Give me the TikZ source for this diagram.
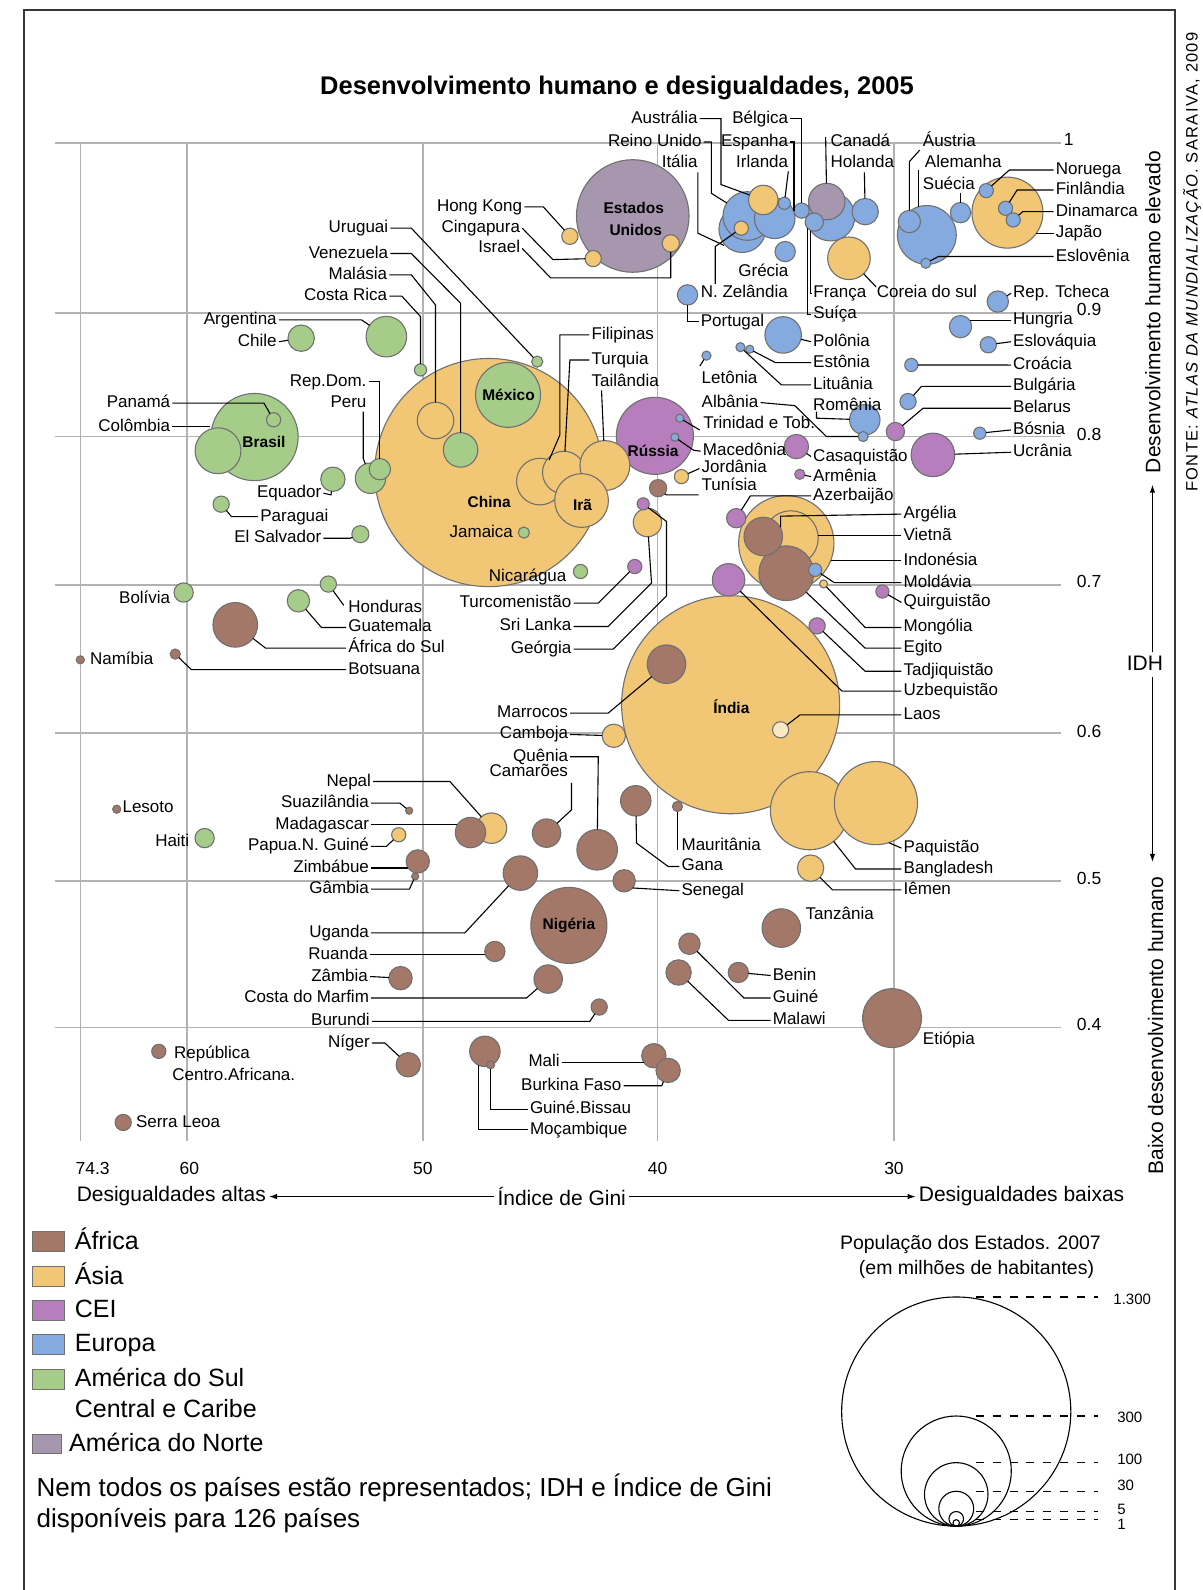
\documentclass[tikz,border=0pt]{standalone}
\usepackage{fontspec}
\setmainfont{Liberation Sans}
\usetikzlibrary{arrows.meta}
\definecolor{africa}{RGB}{163,120,105}
\definecolor{asia}{RGB}{241,199,118}
\definecolor{cei}{RGB}{182,126,188}
\definecolor{europa}{RGB}{132,170,223}
\definecolor{amsul}{RGB}{166,204,138}
\definecolor{amnorte}{RGB}{166,150,174}
\definecolor{laosc}{RGB}{250,232,195}
\definecolor{bordc}{RGB}{112,112,112}
\definecolor{gridc}{RGB}{178,178,178}
\definecolor{framec}{RGB}{55,55,55}
\newcommand\lblf{\fontsize{17}{19}\selectfont}
\newcommand\inlf{\fontsize{15.5}{17}\selectfont\bfseries}
\newcommand\spcd{\addfontfeature{LetterSpace=8}}
\newcommand\CBub[5]{\node[bubble,fill=#2,minimum size={2.0287pt*#5}] (#1) at (#3,#4) {};}
\newcommand\LabW[4]{\node[lbl,anchor=west] (#1) at (#2,#3) {#4};}
\newcommand\LabE[4]{\node[lbl,anchor=east] (#1) at (#2,#3) {#4};}
\begin{document}
\begin{tikzpicture}[x=1.01433pt,y=-1.01433pt,
  bubble/.style={circle,draw=bordc,line width=1.1pt,inner sep=0pt,outer sep=0pt},
  lead/.style={draw=black,line width=1.1pt},
  lbl/.style={font=\lblf,inner sep=2pt,text height=12pt,text depth=3pt},
  inl/.style={font=\inlf,inner sep=0pt},
  gridl/.style={draw=gridc,line width=1.6pt},
  axt/.style={font=\fontsize{21}{23}\selectfont,inner sep=3pt},
  num/.style={font=\fontsize{17.5}{19}\selectfont,inner sep=0pt},
  arr/.style={draw=black,line width=1.1pt,-{Latex[length=8pt,width=5.5pt]}},
  legsq/.style={draw=bordc,line width=1pt,minimum width=32.5pt,minimum height=20pt,inner sep=0pt},
  legt/.style={font=\fontsize{25}{28}\selectfont,anchor=west,inner sep=0pt,text height=18pt,text depth=5pt},
  notet/.style={font=\fontsize{26}{29}\selectfont,anchor=west,inner sep=0pt,text height=18pt,text depth=5pt},
  popn/.style={font=\fontsize{15}{17}\selectfont,anchor=west,inner sep=0pt}]
\useasboundingbox (0,0) rectangle (1186,1568);
\fill[white] (0,0) rectangle (1186,1568);
% frame
\draw[framec,line width=1.9pt] (23.4,1568) -- (23.4,9.9) -- (1158.5,9.9) -- (1158.5,1568);
% grid
\foreach \yy in {141.3,308.9,430.5,576.8,723,868.6,1013.2} \draw[gridl] (54.7,\yy) -- (1046.5,\yy);
\foreach \xx in {79.3,184.5,416.9,648.4,881.6} \draw[gridl] (\xx,141.3) -- (\xx,1125.6);
% title
\node[font=\fontsize{25.5}{28}\selectfont\bfseries] (title) at (608.5,87) {Desenvolvimento humano e desigualdades, 2005};
% bubbles
\CBub{china}{asia}{482}{466}{112.5}
\CBub{india}{asia}{720.5}{695}{107.5}
\CBub{usa}{amnorte}{624}{213}{55.5}
\CBub{indonesia}{asia}{775.4}{535.7}{47}
\CBub{brasil}{amsul}{251}{431}{43}
\CBub{bangladesh}{asia}{798.2}{799.5}{38.5}
\CBub{paquistao}{asia}{863.8}{792}{41}
\CBub{russia}{cei}{645.8}{429.8}{38}
\CBub{nigeria}{africa}{561}{912.6}{37.5}
\CBub{japao}{asia}{993.5}{209.7}{35}
\CBub{mexico}{amsul}{501}{389.4}{32}
\CBub{alemanha}{europa}{914}{231.7}{29}
\CBub{etiopia}{africa}{879.7}{1004}{29}
\CBub{vietna}{asia}{779.9}{530.7}{27}
\CBub{egito}{africa}{775.4}{565.3}{27}
\CBub{filipinas}{asia}{532.4}{474.9}{23}
\CBub{turquia}{asia}{556}{466}{21}
\CBub{tailandia}{asia}{596.5}{459.1}{24.6}
\CBub{ira}{asia}{573.5}{493.6}{26.5}
\CBub{franca}{europa}{819}{213.6}{24}
\CBub{italia}{europa}{732}{226}{23}
\CBub{reinounido}{europa}{737}{213}{24}
\CBub{colombia}{amsul}{215}{444.5}{22.6}
\CBub{africadosul}{africa}{232}{616.2}{22}
\CBub{ucrania}{cei}{920}{448.6}{21.5}
\CBub{coreia}{asia}{837.2}{254.7}{21}
\CBub{argentina}{amsul}{381}{332}{20}
\CBub{quenia}{africa}{588.9}{838}{20}
\CBub{espanha}{europa}{764}{215.3}{20}
\CBub{argelia}{africa}{752.7}{529.1}{19}
\CBub{marrocos}{africa}{657.3}{655}{19}
\CBub{tanzania}{africa}{770.5}{915.2}{19}
\CBub{canada}{amnorte}{815.3}{198.8}{18}
\CBub{polonia}{europa}{772.3}{330.3}{18}
\CBub{malasia}{asia}{429.5}{414.7}{18}
\CBub{venezuela}{amsul}{454.2}{443.7}{17}
\CBub{uganda}{africa}{513.2}{861}{17}
\CBub{uzbequistao}{cei}{718.5}{571.8}{16}
\CBub{nepal}{asia}{484.7}{816.7}{15}
\CBub{madagascar}{africa}{464}{821}{15}
\CBub{peru}{amsul}{365.4}{471.6}{15}
\CBub{gana}{africa}{627}{789.7}{15}
\CBub{mocambique}{africa}{478.2}{1036.8}{15}
\CBub{romenia}{europa}{852.8}{414}{15}
\CBub{australia}{asia}{752.7}{197.2}{14.5}
\CBub{camaroes}{africa}{539}{821.6}{14}
\CBub{costamarfim}{africa}{540.6}{965.5}{14}
\CBub{srilanka}{asia}{638.5}{515.3}{14}
\CBub{iemen}{asia}{799.4}{856.1}{13}
\CBub{holanda}{europa}{853.2}{208.7}{13}
\CBub{chile}{amsul}{297}{333.5}{13}
\CBub{malawi}{africa}{669.2}{959}{12.5}
\CBub{equador}{amsul}{328.3}{472.6}{12}
\CBub{casaquistao}{cei}{785.4}{440.4}{12}
\CBub{niger}{africa}{402.6}{1050}{12}
\CBub{mali}{africa}{644.8}{1041.1}{12}
\CBub{burkina}{africa}{658.9}{1055.6}{12}
\CBub{camboja}{asia}{605.3}{725.6}{11.5}
\CBub{zimbabue}{africa}{412}{849.5}{11.5}
\CBub{zambia}{africa}{395}{964.6}{11.5}
\CBub{hungria}{europa}{947.2}{322.1}{11}
\CBub{guatemala}{amsul}{294.3}{592.5}{11}
\CBub{senegal}{africa}{615.5}{868.6}{11}
\CBub{austria}{europa}{896.8}{218.5}{11}
\CBub{repdom}{amsul}{374.6}{462.7}{10.5}
\CBub{guine}{africa}{679.9}{930.7}{10.5}
\CBub{reptcheca}{europa}{984}{297.4}{10.5}
\CBub{benin}{africa}{728.1}{959}{10}
\CBub{ruanda}{africa}{488}{938.3}{10}
\CBub{portugal}{europa}{678}{290.8}{10}
\CBub{grecia}{europa}{774.3}{248.1}{10}
\CBub{suecia}{europa}{947.2}{209.7}{10}
\CBub{bolivia}{amsul}{181.1}{584.3}{9.5}
\CBub{haiti}{amsul}{201.8}{826.5}{9.5}
\CBub{azerbaijao}{cei}{726}{511}{9.5}
\CBub{belarus}{cei}{883}{425.6}{9}
\CBub{suica}{europa}{803}{219}{9}
\CBub{tunisia}{africa}{649}{481.4}{8.5}
\CBub{israel}{asia}{661.5}{240}{8.5}
\CBub{elsalvador}{amsul}{355.4}{526.8}{8.4}
\CBub{honduras}{amsul}{323.8}{576}{8}
\CBub{paraguai}{amsul}{218.1}{497.2}{8}
\CBub{burundi}{africa}{590.9}{993.1}{8}
\CBub{bulgaria}{europa}{895.5}{396}{8}
\CBub{eslovaquia}{europa}{974.6}{340}{8}
\CBub{tadjiquistao}{cei}{805.8}{617.2}{8}
\CBub{hongkong}{asia}{562}{233}{8}
\CBub{cingapura}{asia}{585}{255}{8}
\CBub{laos}{laosc}{769.8}{719.7}{8}
\CBub{serraleoa}{africa}{121.5}{1106.9}{8}
\CBub{belgica}{europa}{790.5}{207.7}{7.5}
\CBub{turcomenistao}{cei}{626}{558.7}{7}
\CBub{jordania}{asia}{672}{470}{7}
\CBub{nzelandia}{asia}{731}{225}{7}
\CBub{panama}{amsul}{269.8}{414}{7}
\CBub{papua}{asia}{393.2}{823.2}{7}
\CBub{noruega}{europa}{972.6}{188}{7}
\CBub{finlandia}{europa}{991.6}{205.4}{7}
\CBub{dinamarca}{europa}{999.2}{216.9}{7}
\CBub{rca}{africa}{156.6}{1036.8}{7}
\CBub{nicaragua}{amsul}{572.5}{563.6}{7}
\CBub{croacia}{europa}{898.7}{359.9}{6.5}
\CBub{moldavia}{europa}{803.9}{562}{6.5}
\CBub{quirguistao}{cei}{870.2}{583.3}{6.5}
\CBub{irlanda}{europa}{773.5}{200.5}{6}
\CBub{costarica}{amsul}{414.7}{364.8}{6}
\CBub{bosnia}{europa}{966.2}{427.2}{6}
\CBub{georgia}{cei}{634.3}{496.9}{6}
\CBub{uruguai}{amsul}{529.8}{356.6}{5.5}
\CBub{jamaica}{amsul}{516.6}{525.2}{5.5}
\CBub{armenia}{cei}{788.7}{467.7}{5}
\CBub{albania}{europa}{851.2}{430.5}{5}
\CBub{botsuana}{africa}{172.8}{645}{5}
\CBub{mauritania}{africa}{668.1}{795.3}{5}
\CBub{eslovenia}{europa}{913}{259.6}{5}
\CBub{letonia}{europa}{696.7}{350.7}{4.5}
\CBub{lituania}{europa}{730.2}{342.4}{4.5}
\CBub{estonia}{europa}{739.4}{344.4}{4}
\CBub{trinidad}{europa}{670.4}{412.4}{4}
\CBub{macedonia}{europa}{665.5}{431.2}{4}
\CBub{namibia}{africa}{79.2}{650.7}{4}
\CBub{lesoto}{africa}{115.1}{798}{4}
\CBub{mongolia}{asia}{812.2}{575.8}{4}
\CBub{guinebissau}{africa}{483.8}{1050}{4}
\CBub{suazilandia}{africa}{403.5}{799.5}{3.5}
\CBub{gambia}{africa}{409.4}{864.3}{3.5}
% labels inside bubbles
\node[inl] (t-usa1) at (625,205) {Estados};
\node[inl] (t-usa2) at (627,227) {Unidos};
\node[inl] (t-mexico) at (501.5,389.4) {México};
\node[inl] (t-brasil) at (260.3,436) {Brasil};
\node[inl] (t-china) at (482.4,494.6) {China};
\node[inl] (t-ira) at (574.5,497.9) {Irã};
\node[inl] (t-russia) at (644,445) {Rússia};
\node[inl] (t-india) at (721.2,696.7) {Índia};
\node[inl] (t-nigeria) at (561,912.6) {Nigéria};
% country labels
\LabE{l-australia}{690}{117}{Austrália}
\LabE{l-belgica}{779.4}{117}{Bélgica}
\LabE{l-reino}{694}{140}{Reino Unido}
\LabE{l-espanha}{779.4}{140}{Espanha}
\LabE{l-italia}{690.2}{161}{Itália}
\LabE{l-irlanda}{779.4}{161}{Irlanda}
\LabW{l-canada}{817}{140}{Canadá}
\LabW{l-holanda}{817}{161}{Holanda}
\LabW{l-austria}{908}{140}{Áustria}
\LabW{l-alemanha}{910}{161}{Alemanha}
\LabW{l-suecia}{908}{182}{Suécia}
\LabW{l-noruega}{1039}{167.6}{Noruega}
\LabW{l-finlandia}{1039}{187.4}{Finlândia}
\LabW{l-dinamarca}{1039}{208.7}{Dinamarca}
\LabW{l-japao}{1039}{230}{Japão}
\LabW{l-eslovenia}{1039}{253}{Eslovênia}
\LabW{l-grecia}{726}{267.8}{Grécia}
\LabW{l-nzel}{689}{289.2}{N. Zelândia}
\LabW{l-portugal}{689}{317.1}{Portugal}
\LabW{l-franca}{800}{289.2}{França}
\LabW{l-suica}{800}{310}{Suíça}
\LabW{l-coreia}{862.6}{289.2}{Coreia do sul}
\LabW{l-tcheca}{997}{289.2}{Rep. Tcheca}
\LabW{l-hungria}{997}{316}{Hungria}
\LabW{l-eslovaquia}{997}{337}{Eslováquia}
\LabW{l-croacia}{997}{360}{Croácia}
\LabW{l-bulgaria}{997}{381}{Bulgária}
\LabW{l-belarus}{997}{402.6}{Belarus}
\LabW{l-bosnia}{997}{424}{Bósnia}
\LabW{l-ucrania}{997}{446}{Ucrânia}
\LabW{l-polonia}{799.8}{337}{Polônia}
\LabW{l-estonia}{799.8}{357.6}{Estônia}
\LabW{l-lituania}{799.8}{379.6}{Lituânia}
\LabW{l-romenia}{799.8}{400.6}{Romênia}
\LabW{l-casaq}{799.8}{450.2}{Casaquistão}
\LabW{l-armenia}{799.8}{470}{Armênia}
\LabW{l-azer}{799.8}{489}{Azerbaijão}
\LabW{l-letonia}{689.8}{374}{Letônia}
\LabW{l-albania}{689.8}{397}{Albânia}
\LabW{l-trinidad}{691.4}{418}{Trinidad e Tob.}
\LabW{l-macedonia}{691}{445}{Macedônia}
\LabW{l-jordania}{689.8}{462}{Jordânia}
\LabW{l-tunisia}{689.8}{479}{Tunísia}
\LabE{l-hk}{517}{204}{Hong Kong}
\LabE{l-cing}{515}{225}{Cingapura}
\LabE{l-israel}{515}{245}{Israel}
\LabE{l-uruguai}{385}{225}{Uruguai}
\LabE{l-venez}{385}{250}{Venezuela}
\LabE{l-malasia}{384}{271}{Malásia}
\LabE{l-costarica}{384}{292}{Costa Rica}
\LabE{l-argentina}{275}{315.5}{Argentina}
\LabE{l-chile}{275}{337}{Chile}
\LabW{l-filipinas}{581.3}{330.3}{Filipinas}
\LabW{l-turquia}{581.3}{355}{Turquia}
\LabW{l-tailandia}{581.3}{376.3}{Tailândia}
\LabE{l-repdom}{363.5}{376.3}{Rep.Dom.}
\LabE{l-peru}{363.5}{397.6}{Peru}
\LabE{l-panama}{170}{397.6}{Panamá}
\LabE{l-colombia}{170}{420.6}{Colômbia}
\LabE{l-equador}{319}{486.4}{Equador}
\LabW{l-paraguai}{254.6}{509.4}{Paraguai}
\LabE{l-elsal}{319}{530.8}{El Salvador}
\LabE{l-jamaica}{508}{525.8}{Jamaica}
\LabE{l-nicaragua}{560.7}{569}{Nicarágua}
\LabE{l-bolivia}{170}{590.6}{Bolívia}
\LabW{l-honduras}{341.4}{600}{Honduras}
\LabW{l-guatemala}{341.4}{618.8}{Guatemala}
\LabW{l-africasul}{341.4}{639.2}{África do Sul}
\LabW{l-botsuana}{341.4}{660.4}{Botsuana}
\LabW{l-namibia}{86.7}{650.7}{Namíbia}
\LabE{l-turcom}{565.6}{594.8}{Turcomenistão}
\LabE{l-srilanka}{565.6}{617.8}{Sri Lanka}
\LabE{l-georgia}{565.6}{640.2}{Geórgia}
\LabE{l-marrocos}{562.3}{703.3}{Marrocos}
\LabE{l-camboja}{562.3}{724.3}{Camboja}
\LabE{l-quenia}{562.3}{746.3}{Quênia}
\LabE{l-camaroes}{562.3}{761.8}{Camarões}
\LabE{l-nepal}{368}{770.7}{Nepal}
\LabE{l-suazi}{366}{792}{Suazilândia}
\LabE{l-madag}{366}{813.4}{Madagascar}
\LabE{l-papua}{366}{834.7}{Papua.N. Guiné}
\LabE{l-zimb}{366}{856}{Zimbábue}
\LabE{l-gambia}{366}{876.8}{Gâmbia}
\LabW{l-lesoto}{118.7}{797}{Lesoto}
\LabE{l-haiti}{188.8}{830}{Haiti}
\LabE{l-uganda}{366}{920}{Uganda}
\LabE{l-ruanda}{365}{941.5}{Ruanda}
\LabE{l-zambia}{365}{963}{Zâmbia}
\LabE{l-cmarfim}{366}{984.2}{Costa do Marfim}
\LabE{l-burundi}{366.8}{1007.3}{Burundi}
\LabE{l-niger}{366.8}{1028.6}{Níger}
\LabW{l-rca1}{169.6}{1039.2}{República}
\LabW{l-rca2}{167.8}{1061}{Centro.Africana.}
\LabW{l-serra}{132}{1107.6}{Serra Leoa}
\LabE{l-mali}{554.1}{1047.7}{Mali}
\LabE{l-burkina}{614.9}{1070.7}{Burkina Faso}
\LabW{l-gbissau}{520.5}{1093.7}{Guiné.Bissau}
\LabW{l-mocamb}{520.5}{1114}{Moçambique}
\LabW{l-mauritania}{670}{833.8}{Mauritânia}
\LabW{l-gana}{670}{854.5}{Gana}
\LabW{l-senegal}{670}{878.4}{Senegal}
\LabW{l-tanzania}{792.4}{902.1}{Tanzânia}
\LabW{l-benin}{760}{962}{Benin}
\LabW{l-guine}{760}{984.2}{Guiné}
\LabW{l-malawi}{760}{1006.3}{Malawi}
\LabW{l-etiopia}{908}{1025.3}{Etiópia}
\LabW{l-paquistao}{889}{836.4}{Paquistão}
\LabW{l-bangla}{889}{857}{Bangladesh}
\LabW{l-iemen}{889}{877.5}{Iêmen}
\LabW{l-laos}{889}{705}{Laos}
\LabW{l-argelia}{889}{507}{Argélia}
\LabW{l-vietna}{889}{528.5}{Vietnã}
\LabW{l-indonesia}{889}{553}{Indonésia}
\LabW{l-moldavia}{889}{574.6}{Moldávia}
\LabW{l-quirg}{889}{594.1}{Quirguistão}
\LabW{l-mongolia}{889}{618.8}{Mongólia}
\LabW{l-egito}{889}{639.2}{Egito}
\LabW{l-tadj}{889}{662}{Tadjiquistão}
\LabW{l-uzbek}{889}{681.6}{Uzbequistão}
% leaders
\draw[lead] (l-australia.east) -- (711,117) -- (711,182) -- (australia);
\draw[lead] (l-belgica.east) -- (790.5,117) -- (belgica);
\draw[lead] (l-reino.east) -- (701.5,140) -- (701.5,190.6) -- (reinounido);
\draw[lead] (l-espanha.east) -- (783,140) -- (783,208);
\draw[lead] (688.2,170) -- (688.2,230) -- (714,242);
\draw[lead] (777.4,169) -- (irlanda);
\draw[lead] (814.2,135) -- (canada);
\draw[lead] (852.4,170) -- (holanda);
\draw[lead] (907,148) -- (896.8,159.4) -- (austria);
\draw[lead] (905.5,168) -- (905.5,204.5);
\draw[lead] (947.2,190) -- (suecia);
\draw[lead] (l-noruega.west) -- (995.4,167.6) -- (noruega);
\draw[lead] (l-finlandia.west) -- (1003,187.4) -- (finlandia);
\draw[lead] (l-dinamarca.west) -- (1008.6,208.7) -- (dinamarca);
\draw[lead] (l-japao.west) -- (1022,230);
\draw[lead] (l-eslovenia.west) -- (925.3,253) -- (eslovenia);
\draw[lead] (705.3,280) -- (705.3,243.2) -- (nzelandia);
\draw[lead] (portugal) -- (678,317.1) -- (l-portugal.west);
\draw[lead] (l-franca.west) -- (799.4,289.2) -- (799.4,228);
\draw[lead] (l-suica.west) -- (796.3,310) -- (796.3,225);
\draw[lead] (coreia) -- (864,283);
\draw[lead] (l-tcheca.west) -- (reptcheca);
\draw[lead] (l-hungria.west) -- (956.5,316);
\draw[lead] (l-eslovaquia.west) -- (eslovaquia);
\draw[lead] (l-croacia.west) -- (croacia);
\draw[lead] (l-bulgaria.west) -- (908.7,381) -- (bulgaria);
\draw[lead] (l-belarus.west) -- (910.3,402.6) -- (belarus);
\draw[lead] (l-bosnia.west) -- (bosnia);
\draw[lead] (l-ucrania.west) -- (ucrania);
\draw[lead] (l-polonia.west) -- (polonia);
\draw[lead] (l-estonia.west) -- (764.7,357.6) -- (estonia);
\draw[lead] (l-lituania.west) -- (770.6,379.6) -- (lituania);
\draw[lead] (805.2,406) -- (805.2,412.4) -- (romenia);
\draw[lead] (l-casaq.west) -- (casaquistao);
\draw[lead] (l-armenia.west) -- (armenia);
\draw[lead] (l-azer.west) -- (740,489) -- (azerbaijao);
\draw[lead] (690.1,361) -- (letonia);
\draw[lead] (l-albania.east) -- (783.8,400) -- (815,430.5) -- (albania);
\draw[lead] (trinidad) -- (690,424);
\draw[lead] (macedonia) -- (684,444) -- (l-macedonia.west);
\draw[lead] (jordania) -- (l-jordania.west);
\draw[lead] (tunisia) -- (657,488) -- (689,488);
\draw[lead] (l-hk.east) -- (535.8,204) -- (hongkong);
\draw[lead] (l-cing.east) -- (545.2,256) -- (cingapura);
\draw[lead] (l-israel.east) -- (543,274) -- (661.5,274) -- (israel);
\draw[lead] (l-uruguai.east) -- (405.6,225) -- (uruguai);
\draw[lead] (l-venez.east) -- (405.6,250) -- (454.2,299) -- (venezuela);
\draw[lead] (l-malasia.east) -- (405.6,271) -- (429.5,300.7) -- (malasia);
\draw[lead] (l-costarica.east) -- (396.2,292) -- (414.7,312.2) -- (costarica);
\draw[lead] (l-argentina.east) -- (356.6,315.5) -- (argentina);
\draw[lead] (l-chile.east) -- (chile);
\draw[lead] (l-filipinas.west) -- (552.1,330.3) -- (552.1,429) -- (filipinas);
\draw[lead] (l-turquia.west) -- (562,355) -- (turquia);
\draw[lead] (593.2,385) -- (tailandia);
\draw[lead] (l-repdom.east) -- (374.6,376.3) -- (repdom);
\draw[lead] (358.2,406) -- (358.2,452) -- (peru);
\draw[lead] (l-panama.east) -- (260.3,397.6) -- (panama);
\draw[lead] (l-colombia.east) -- (207.5,420.6);
\draw[lead] (l-equador.east) -- (326.4,488) -- (equador);
\draw[lead] (paraguai) -- (228.2,509.4) -- (l-paraguai.west);
\draw[lead] (l-elsal.east) -- (345.3,530.8) -- (elsalvador);
\draw[lead] (honduras) -- (339,597);
\draw[lead] (guatemala) -- (317,618.8) -- (l-guatemala.west);
\draw[lead] (africadosul) -- (262,639.2) -- (l-africasul.west);
\draw[lead] (botsuana) -- (188.7,660.4) -- (l-botsuana.west);
\draw[lead] (l-turcom.east) -- (589.9,594.8) -- (turcomenistao);
\draw[lead] (l-srilanka.east) -- (599.8,617.8) -- (642.5,575) -- (srilanka);
\draw[lead] (l-georgia.east) -- (604.7,640.2) -- (657.3,587.6) -- (657.3,514.3) -- (georgia);
\draw[lead] (l-marrocos.east) -- (599.7,703.3) -- (marrocos);
\draw[lead] (l-camboja.east) -- (camboja);
\draw[lead] (l-quenia.east) -- (590,746.3) -- (quenia);
\draw[lead] (563.6,772) -- (563.6,798.6) -- (camaroes);
\draw[lead] (l-nepal.east) -- (443.7,770.7) -- (nepal);
\draw[lead] (l-suazi.east) -- (394.3,792) -- (suazilandia);
\draw[lead] (l-madag.east) -- (451,813.4);
\draw[lead] (l-papua.east) -- (381,834.7) -- (papua);
\draw[lead] (l-zimb.east) -- (402.5,856);
\draw[lead] (l-gambia.east) -- (403.8,876.8) -- (gambia);
\draw[lead] (l-uganda.east) -- (458.4,920) -- (uganda);
\draw[lead] (l-ruanda.east) -- (478.5,941.5);
\draw[lead] (l-zambia.east) -- (zambia);
\draw[lead] (l-cmarfim.east) -- (519.2,984.2) -- (costamarfim);
\draw[lead] (l-burundi.east) -- (581.7,1007.3) -- (burundi);
\draw[lead] (l-niger.east) -- (379.6,1028.6) -- (niger);
\draw[lead] (l-mali.east) -- (634.8,1047.7);
\draw[lead] (l-burkina.east) -- (652.6,1070.7) -- (burkina);
\draw[lead] (guinebissau) -- (483.8,1093.7) -- (l-gbissau.west);
\draw[lead] (471.6,1050.3) -- (471.6,1114) -- (l-mocamb.west);
\draw[lead] (mauritania) -- (668.1,838);
\draw[lead] (gana) -- (627.7,831.4) -- (658.9,854.5) -- (l-gana.west);
\draw[lead] (senegal.-40) -- (l-senegal.west);
\draw[lead] (benin) -- (l-benin.west);
\draw[lead] (guine) -- (733.7,984.2) -- (l-guine.west);
\draw[lead] (malawi) -- (718.5,1006.3) -- (l-malawi.west);
\draw[lead] (paquistao.-72) -- (l-paquistao.west);
\draw[lead] (bangladesh) -- (843.7,857) -- (l-bangla.west);
\draw[lead] (iemen) -- (821,877.5) -- (l-iemen.west);
\draw[lead] (laos) -- (789,705) -- (l-laos.west);
\draw[lead] (l-argelia.west) -- (769.8,509) -- (769.8,520);
\draw[lead] (l-vietna.west) -- (806.5,528.5);
\draw[lead] (l-indonesia.west) -- (819,553);
\draw[lead] (moldavia) -- (822.7,574.6) -- (l-moldavia.west);
\draw[lead] (quirguistao) -- (l-quirg.west);
\draw[lead] (mongolia) -- (853.2,618.8) -- (l-mongolia.west);
\draw[lead] (egito) -- (853.2,639.2) -- (l-egito.west);
\draw[lead] (tadjiquistao) -- (853.2,662) -- (l-tadj.west);
\draw[lead] (uzbequistao) -- (830.4,681.6) -- (l-uzbek.west);
% axis values
\node[num,anchor=west] (v1) at (1049,138) {1};
\node[num] (v09) at (1074,305.6) {0.9};
\node[num] (v08) at (1074,428.9) {0.8};
\node[num] (v07) at (1074,573.5) {0.7};
\node[num] (v06) at (1074,721.4) {0.6};
\node[num] (v05) at (1074,866) {0.5};
\node[num] (v04) at (1074,1010.5) {0.4};
\node[num] (g743) at (91.3,1152) {74.3};
\node[num] (g60) at (186.7,1152) {60};
\node[num] (g50) at (417,1152) {50};
\node[num] (g40) at (648.4,1152) {40};
\node[num] (g30) at (881.6,1152) {30};
% axis titles
\node[axt,anchor=west,inner sep=0pt] (l-altas) at (75.5,1180) {Desigualdades altas};
\node[axt,anchor=west] (l-indice) at (487.5,1180) {Índice de Gini};
\node[axt,anchor=west] (l-baixas) at (903,1180) {Desigualdades baixas};
\draw[arr] (l-indice.west) -- ([xshift=3pt]l-altas.east);
\draw[arr] (l-indice.east) -- (l-baixas.west);
\node[axt,rotate=90,anchor=west,inner sep=0pt] (l-elev) at (1137,466.7) {Desenvolvimento humano elevado};
\node[axt,rotate=90,anchor=west,inner sep=0pt] (l-baixo) at (1139.5,1158.4) {Baixo desenvolvimento humano};
\node[axt,inner sep=0pt] (l-idh) at (1129,654) {IDH};
\coordinate (aup) at (1136.5,478);
\coordinate (adn) at (1136.5,850);
\draw[arr] (1136.5,643) -- (aup);
\draw[arr] (1136.5,668) -- (adn);
\node[font=\fontsize{16.5}{18}\selectfont,rotate=90,anchor=west,inner sep=0pt] (fonte) at (1175.5,485) {{\spcd FONTE: }\textit{\spcd ATLAS DA MUNDIALIZAÇÃO}{\spcd . SARAIVA, 2009}};
% legend
\node[legsq,fill=africa] (sq-af) at (48,1224) {};
\node[legsq,fill=asia] (sq-as) at (48,1258.7) {};
\node[legsq,fill=cei] (sq-cei) at (48,1292.6) {};
\node[legsq,fill=europa] (sq-eu) at (48,1326) {};
\node[legsq,fill=amsul] (sq-sul) at (48,1360.3) {};
\node[legsq,fill=amnorte,minimum width=29.5pt] (sq-no) at (46.5,1424) {};
\node[legt] (t-af) at (73.6,1225.8) {África};
\node[legt] (t-as) at (73.6,1260.3) {Ásia};
\node[legt] (t-cei) at (73.6,1293.2) {CEI};
\node[legt] (t-eu) at (73.6,1326) {Europa};
\node[legt] (t-sul) at (73.6,1360.5) {América do Sul};
\node[legt] (t-car) at (73.6,1391.8) {Central e Caribe};
\node[legt] (t-no) at (68,1424.6) {América do Norte};
\node[notet] (note1) at (35.9,1469) {Nem todos os países estão representados; IDH e Índice de Gini};
\node[notet] (note2) at (35.9,1500.2) {disponíveis para 126 países};
% population legend
\node[font=\fontsize{19.5}{21}\selectfont,inner sep=0pt] (pop1) at (957,1227.5) {População dos Estados. 2007};
\node[font=\fontsize{19.5}{21}\selectfont,inner sep=0pt] (pop2) at (963,1252) {(em milhões de habitantes)};
\foreach \r in {113,54.3,31.3,17.2,7.2,3.2}
  \draw[line width=1.1pt] (943,{1505-\r}) circle[radius=\r];
\foreach \yy in {1279,1396.4,1442.4,1470.6,1490.6,1498.6}
  \draw[line width=1.1pt,dash pattern=on 8pt off 9pt] (962,\yy) -- (1082.6,\yy);
\node[popn] (p1300) at (1097.8,1281) {1.300};
\node[popn] (p300) at (1101.6,1397.3) {300};
\node[popn] (p100) at (1101.6,1438.7) {100};
\node[popn] (p30) at (1101.6,1465) {30};
\node[popn] (p5) at (1101.6,1488.7) {5};
\node[popn] (p1) at (1101.6,1503.5) {1};
\end{tikzpicture}
\end{document}
